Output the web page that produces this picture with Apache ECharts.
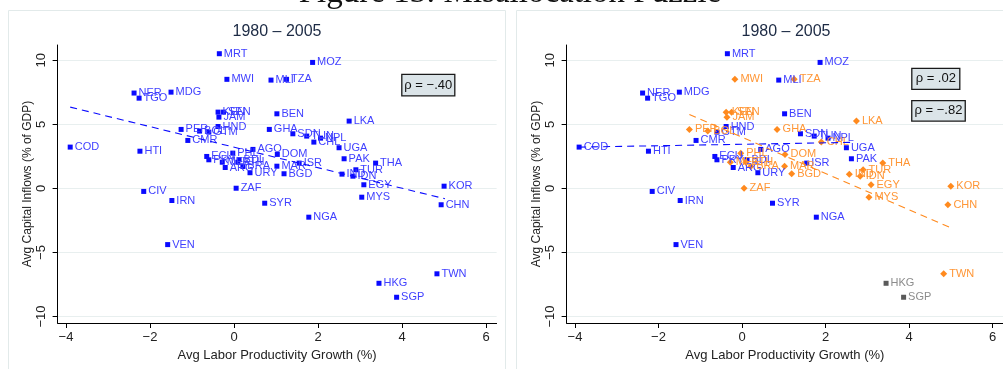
<!DOCTYPE html>
<html><head><meta charset="utf-8">
<script src="https://cdn.jsdelivr.net/npm/echarts@6/dist/echarts.min.js"></script>
<style>html,body{margin:0;padding:0;background:#fff;overflow:hidden}#c{width:1003px;height:369px}</style>
</head><body><div id="c"></div>
<script>
// ---- data ----
const countries = ['MRT','MOZ','MWI','MLI','TZA','NER','TGO','MDG','KEN','SEN','JAM','BEN','LKA','HND','PER','BOL','GTM','GHA','SDN','TUN','NPL','CMR','CHL','COD','UGA','AGO','HTI','PHL','DOM','ECU','PAK','PRY','BDI','MEX','ISR','THA','ETH','MAR','BRA','ARG','TUR','URY','BGD','IND','IDN','EGY','KOR','ZAF','CIV','IRN','SYR','MYS','CHN','NGA','VEN','TWN','HKG','SGP'];
const growth   = [-0.35,1.87,-0.17,0.88,1.25,-2.38,-2.26,-1.50,-0.38,-0.25,-0.36,1.02,2.74,-0.38,-1.26,-0.82,-0.60,0.84,1.40,1.73,2.06,-1.10,1.90,-3.90,2.50,0.45,-2.24,-0.03,1.03,-0.65,2.62,-0.60,0.12,-0.28,1.55,3.37,0.09,1.02,0.21,-0.21,2.90,0.38,1.19,2.57,2.83,3.09,5.00,0.05,-2.15,-1.48,0.73,3.04,4.93,1.78,-1.58,4.83,3.45,3.87];
const inflows  = [10.52,9.84,8.52,8.46,8.52,7.45,7.05,7.52,5.96,5.96,5.57,5.83,5.26,4.84,4.61,4.48,4.40,4.61,4.27,4.09,3.93,3.75,3.62,3.23,3.18,3.05,2.91,2.76,2.66,2.50,2.32,2.24,2.25,2.05,1.98,1.98,2.05,1.74,1.72,1.64,1.46,1.23,1.15,1.12,0.96,0.29,0.18,0.02,-0.23,-0.94,-1.15,-0.68,-1.27,-2.24,-4.38,-6.66,-7.40,-8.49];
// group in right panel: B = blue, O = orange, G = gray
const groups   = ['B','B','O','B','O','B','B','B','O','O','O','B','O','B','O','O','B','O','B','B','B','B','O','B','B','B','B','O','O','B','B','B','B','O','B','O','O','O','O','B','O','B','O','O','O','O','O','O','B','B','B','O','O','B','B','O','G','G'];

const xTicks = [-4,-2,0,2,4,6];
const yTicks = [-10,-5,0,5,10];

const leftFitX = [-3.90, 5.02];
const leftFitY = [6.35, -0.80];
const rightBlueFitX = [-3.90, 2.62];
const rightBlueFitY = [3.23, 3.60];
const rightOrangeFitX = [-1.26, 5.00];
const rightOrangeFitY = [5.78, -3.07];

const panelTitles = ['1980 \u2013 2005', '1980 \u2013 2005'];
const rhoLeft = ['\u03c1 = \u2212.40'];
const rhoRight = ['\u03c1 = .02', '\u03c1 = \u2212.82'];
const xTitle = 'Avg Labor Productivity Growth (%)';
const yTitle = 'Avg Capital Inflows (% of GDP)';
const figTitle = 'Figure 13: Misallocation Puzzle';

// ---- styling ----
const FF = 'Liberation Sans, Arial, sans-serif';
const BLUE = '#0a0aff', BLUE_L = '#3f3fff';
const ORANGE = '#ff8a1e', ORANGE_L = '#ff9636';
const GRAY = '#5a5a5a', GRAY_L = '#8c8c8c';
const GRID = '#e8efef';
const fmt = v => (v < 0 ? '\u2212' + Math.abs(v) : String(v));

function pts(filter) {
  const out = [];
  for (let i = 0; i < countries.length; i++) {
    if (!filter || filter(groups[i])) out.push({ value: [growth[i], inflows[i]], name: countries[i] });
  }
  return out;
}
function pairs(xs, ys) { return xs.map((x, i) => [x, ys[i]]); }

function xAxisCfg(g) {
  return {
    type: 'value', gridIndex: g, min: -4.2, max: 6.25,
    name: xTitle, nameLocation: 'middle', nameGap: 21,
    nameTextStyle: { fontSize: 13, color: '#222', fontFamily: FF },
    axisLine: { show: true, onZero: false, lineStyle: { color: '#000', width: 1 } },
    axisTick: { show: true, length: 5, customValues: xTicks, lineStyle: { color: '#000' } },
    axisLabel: { customValues: xTicks, formatter: fmt, fontSize: 13, color: '#222', margin: 8, fontFamily: FF },
    splitLine: { show: false }
  };
}
function yAxisCfg(g) {
  return {
    type: 'value', gridIndex: g, min: -10.5, max: 11.2,
    name: yTitle, nameLocation: 'middle', nameGap: 24, nameRotate: 90,
    nameTextStyle: { fontSize: 12, color: '#222', fontFamily: FF },
    axisLine: { show: true, onZero: false, lineStyle: { color: '#000', width: 1 } },
    axisTick: { show: true, length: 5, customValues: yTicks, lineStyle: { color: '#000' } },
    axisLabel: { customValues: yTicks, formatter: fmt, fontSize: 13, color: '#222', margin: 10, rotate: 90, fontFamily: FF },
    splitLine: { show: false }
  };
}
function gridLines(g) {
  return {
    type: 'line', xAxisIndex: g, yAxisIndex: g, data: [], z: 0, silent: true,
    markLine: { silent: true, z: 0, symbol: ['none', 'none'], label: { show: false },
      lineStyle: { color: GRID, width: 1.2, type: 'solid' },
      data: yTicks.map(v => ({ yAxis: v })) }
  };
}
function scatter(g, data, symbol, size, color, lcolor) {
  return {
    type: 'scatter', xAxisIndex: g, yAxisIndex: g, data, symbol, symbolSize: size, z: 3,
    itemStyle: { color, opacity: 1 },
    label: { show: true, position: 'right', distance: 2, formatter: p => p.name,
      fontSize: 11, color: lcolor, fontFamily: FF },
    labelLayout: { hideOverlap: false }
  };
}
function fit(g, xs, ys, color) {
  return {
    type: 'line', xAxisIndex: g, yAxisIndex: g, data: pairs(xs, ys), symbol: 'none', z: 4,
    lineStyle: { color, width: 1.1, type: [7, 5] }
  };
}
function rhoBox(cx, cy, w, h, text) {
  return [
    { type: 'rect', shape: { x: cx - w / 2, y: cy - h / 2, width: w, height: h },
      style: { fill: '#dbe4e8', stroke: '#1a1a1a', lineWidth: 1.3 }, z: 10 },
    { type: 'text', x: cx, y: cy, style: { text, fontSize: 13, fontFamily: FF, fill: '#111',
      align: 'center', verticalAlign: 'middle' }, z: 11 }
  ];
}

const chart = echarts.init(document.getElementById('c'), null, { renderer: 'canvas' });
chart.setOption({
  animation: false,
  backgroundColor: '#fff',
  grid: [
    { left: 57.6, top: 45, width: 439, height: 278 },
    { left: 566.6, top: 45, width: 439, height: 278 }
  ],
  xAxis: [xAxisCfg(0), xAxisCfg(1)],
  yAxis: [yAxisCfg(0), yAxisCfg(1)],
  series: [
    gridLines(0), gridLines(1),
    scatter(0, pts(null), 'rect', 5, BLUE, BLUE_L),
    fit(0, leftFitX, leftFitY, BLUE),
    scatter(1, pts(g => g === 'B'), 'rect', 5, BLUE, BLUE_L),
    scatter(1, pts(g => g === 'O'), 'diamond', 7, ORANGE, ORANGE_L),
    scatter(1, pts(g => g === 'G'), 'rect', 5, GRAY, GRAY_L),
    fit(1, rightBlueFitX, rightBlueFitY, BLUE),
    fit(1, rightOrangeFitX, rightOrangeFitY, ORANGE)
  ],
  graphic: [
    { type: 'rect', shape: { x: 8.5, y: 10.5, width: 497, height: 370 }, style: { fill: 'none', stroke: '#e2eaea', lineWidth: 1 }, z: 0 },
    { type: 'rect', shape: { x: 516.5, y: 10.5, width: 500, height: 370 }, style: { fill: 'none', stroke: '#e2eaea', lineWidth: 1 }, z: 0 },
    { type: 'text', x: 510, y: -7, style: { text: figTitle, fontSize: 33, fontFamily: 'Liberation Serif, DejaVu Serif, serif', fill: '#111', align: 'center', verticalAlign: 'middle' } },
    { type: 'text', x: 277, y: 32, style: { text: panelTitles[0], fontSize: 16, fontFamily: FF, fill: '#1c2a44', align: 'center', verticalAlign: 'middle' } },
    { type: 'text', x: 786, y: 32, style: { text: panelTitles[1], fontSize: 16, fontFamily: FF, fill: '#1c2a44', align: 'center', verticalAlign: 'middle' } },
    ...rhoBox(428.3, 85.2, 53, 21.5, rhoLeft[0]),
    ...rhoBox(935.8, 78.8, 48, 21, rhoRight[0]),
    ...rhoBox(938.5, 110.8, 53.5, 20.5, rhoRight[1])
  ]
});
</script>
</body></html>
